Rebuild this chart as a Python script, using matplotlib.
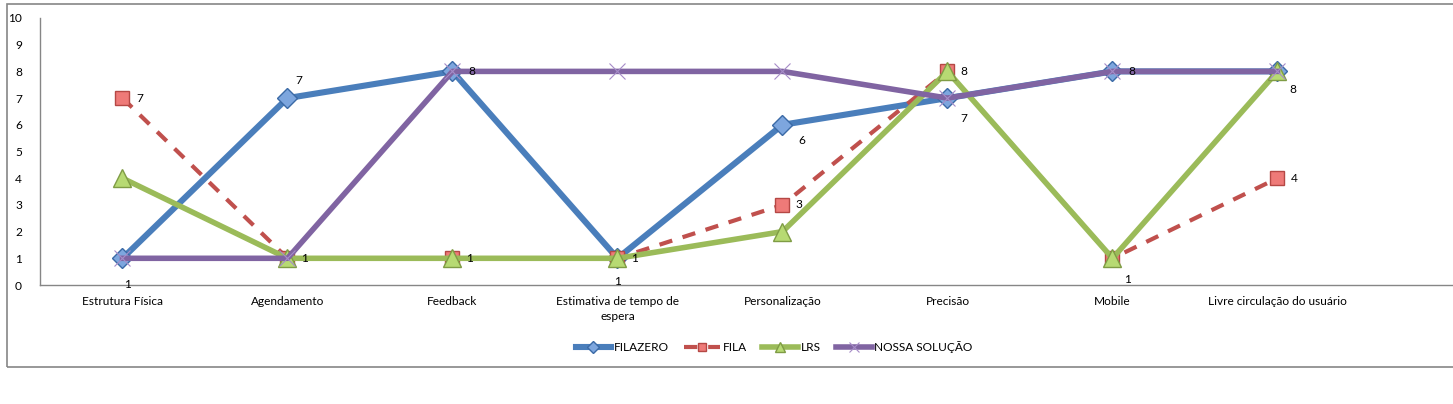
import matplotlib.pyplot as plt
from matplotlib.patches import Rectangle

plt.rcParams['font.family'] = ['Lato', 'DejaVu Sans']
plt.rcParams['font.size'] = 8.6

categorias = ['Estrutura Física', 'Agendamento', 'Feedback',
              'Estimativa de tempo de\nespera', 'Personalização', 'Precisão',
              'Mobile', 'Livre circulação do usuário']
filazero = [1, 7, 8, 1, 6, 7, 8, 8]
fila = [7, 1, 1, 1, 3, 8, 1, 4]
lrs = [4, 1, 1, 1, 2, 8, 1, 8]
nossa = [1, 1, 8, 8, 8, 7, 8, 8]

# offsets (pixels) of the data labels, as Excel placed them
off_filazero = [(5, -26), (11, 18), (19, 0), (0, -23), (19, -16), (16, -20), (19, 0), (15, -18)]
off_fila = [(17, 0), (17, 0), (17, 0), (17, 0), (16, 0), (16, 0), (15, -21), (17, 0)]

W, H = 1453, 404
fig = plt.figure(figsize=(W / 100, H / 100), dpi=100)

# outer chart frame
fig.patches.append(Rectangle((7 / W, (H - 367) / H), 1.2, (367 - 4) / H,
                             transform=fig.transFigure, fill=False,
                             edgecolor='#868686', lw=1.2))

ax = fig.add_axes([40 / W, (H - 285) / H, (W - 40) / W, 267 / H])
x = list(range(len(categorias)))

ax.plot(x, filazero, color='#4A7EBB', lw=4.4, marker='D', ms=10.5,
        mfc='#7DA6DE', mec='#3B6AA6', mew=1, label='FILAZERO', zorder=3)
ax.plot(x, fila, color='#C0504D', lw=3, dashes=(3.2, 2.6), marker='s', ms=10,
        mfc='#EE7A78', mec='#B54845', mew=1, label='FILA', zorder=4)
ax.plot(x, lrs, color='#9BBB59', lw=4, marker='^', ms=13,
        mfc='#B7DA73', mec='#7F9C45', mew=1, label='LRS', zorder=5)
ax.plot(x, nossa, color='#8064A2', lw=4, marker='x', ms=11,
        mec='#A68CC8', mew=0.8, label='NOSSA SOLUÇÃO', zorder=6)

for i in x:
    ax.annotate(str(filazero[i]), (i, filazero[i]), xytext=off_filazero[i],
                textcoords='offset pixels', ha='center', va='center', zorder=8)
    ax.annotate(str(fila[i]), (i, fila[i]), xytext=off_fila[i],
                textcoords='offset pixels', ha='center', va='center', zorder=8)

ax.set_xlim(-0.5, -0.5 + (W - 40) / 165)
ax.set_ylim(0, 10)
ax.set_yticks(range(0, 11))
ax.set_xticks(x)
ax.set_xticklabels(categorias, linespacing=1.45)
ax.tick_params(length=0, pad=13)
ax.tick_params(axis='x', pad=8)
ax.spines['top'].set_visible(False)
ax.spines['right'].set_visible(False)
for s in ['left', 'bottom']:
    ax.spines[s].set_color('#868686')
    ax.spines[s].set_linewidth(1)

fig.legend(loc='center', bbox_to_anchor=(774 / W, 1 - 347 / H), ncol=4,
           frameon=False, handlelength=3.0, handletextpad=0.2,
           columnspacing=1.3, markerscale=0.6)

fig.savefig('out.png', dpi=100)
